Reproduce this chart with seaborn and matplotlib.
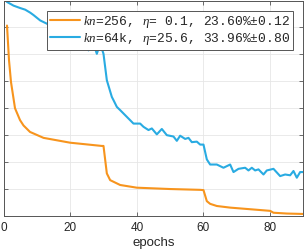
import numpy as np
import pandas as pd
import matplotlib
matplotlib.use("Agg")
import matplotlib.pyplot as plt
import seaborn as sns

# ---- data (y in grid units, labels hidden) ----
orange_epochs = [1.05, 1.65, 2.25, 3.45, 4.95, 6.0, 7.95, 12, 20, 29.5, 30, 31, 32, 35, 40, 50, 59, 60,
                 61, 62, 64, 68, 73, 80, 81, 85, 90]
orange_err = [7.07, 5.78, 4.97, 4.0, 3.56, 3.36, 3.12, 2.9, 2.72, 2.60, 2.60, 1.58, 1.33, 1.15, 1.05, 1.0, 0.97, 0.96,
              0.55, 0.45, 0.37, 0.31, 0.26, 0.19, 0.12, 0.09, 0.074]

blue_epochs = [1, 3, 5, 6.5, 8, 9, 11, 13, 15, 17, 19, 21, 23, 23.5, 24.5, 25.5, 27, 28, 29, 30, 30.5, 31,
               32.5, 33, 34, 35, 37, 39, 41, 42, 43.5, 44.5, 46, 47.5, 49, 51, 52, 53, 54.5, 55.5, 56.5, 58, 59, 60,
               61, 62, 64, 66, 68, 69, 70.5, 72.5, 73.5, 74.5, 75.5, 76.5, 78, 79, 81, 83, 84.5, 86, 87, 88, 89, 90]
blue_err = [7.95, 7.81, 7.72, 7.66, 7.55, 7.46, 7.26, 7.14, 7.0, 6.85, 6.7, 6.5, 6.3, 6.21, 6.33, 6.15, 6.4, 6.02, 6.4, 6.02, 5.53, 5.04,
            4.42, 4.3, 4.05, 3.93, 3.68, 3.43, 3.43, 3.31, 3.19, 3.25, 3.03, 3.23, 3.0, 2.95, 2.79, 2.98, 2.86, 2.9, 2.74, 2.76, 2.65, 2.65,
            2.1, 1.91, 1.91, 1.79, 1.91, 1.63, 1.75, 1.79, 1.69, 1.79, 1.69, 1.73, 1.54, 1.69, 1.75, 1.48, 1.54, 1.51, 1.67, 1.42, 1.63, 1.63]

labels = [r"$kn$=256, $\eta$= 0.1, 23.60%±0.12",
          r"$kn$=64k, $\eta$=25.6, 33.96%±0.80"]
colors = ["#F7941D", "#29ABE2"]
xticks = [0, 20, 40, 60, 80]

df = pd.concat([
    pd.DataFrame({"epochs": orange_epochs, "err": orange_err, "run": labels[0]}),
    pd.DataFrame({"epochs": blue_epochs, "err": blue_err, "run": labels[1]}),
])

sns.set_style("whitegrid")
plt.rcParams["font.family"] = ["Liberation Sans", "DejaVu Sans"]
plt.rcParams["mathtext.fontset"] = "custom"
plt.rcParams["mathtext.it"] = "Liberation Serif:italic"
plt.rcParams["mathtext.rm"] = "Liberation Mono"

fig = plt.figure(figsize=(3.05, 2.52), dpi=100)
ax = fig.add_axes([0.0115, 0.143, 0.9835, 0.855])

sns.lineplot(data=df, x="epochs", y="err", hue="run", palette=colors,
             hue_order=labels, linewidth=1.5, ax=ax, sort=False)

ax.set_xlim(0, 90)
ax.set_ylim(0, 8)
ax.set_xticks(xticks)
ax.set_yticks(range(0, 9))
ax.set_yticklabels([])
ax.set_ylabel("")
ax.set_xlabel("epochs", fontsize=9.5, labelpad=2.5)
ax.tick_params(axis="x", labelsize=8.5, pad=4)
ax.tick_params(direction="in", length=3, width=0.6, color="#555555",
               top=True, right=True, left=True, bottom=True)
ax.grid(True, color="#e6e6e6", linewidth=0.6)
for s in ax.spines.values():
    s.set_color("#555555")
    s.set_linewidth(0.7)

leg = ax.legend(loc="upper right", bbox_to_anchor=(0.965, 0.951),
                prop={"family": "Liberation Mono", "size": 9.4},
                frameon=True, fancybox=False, framealpha=1, edgecolor="#555555",
                handlelength=2.3, handletextpad=0.25, borderpad=0.22,
                labelspacing=0.08, borderaxespad=0)
leg.get_frame().set_linewidth(0.7)

fig.savefig("out.png", dpi=100)
